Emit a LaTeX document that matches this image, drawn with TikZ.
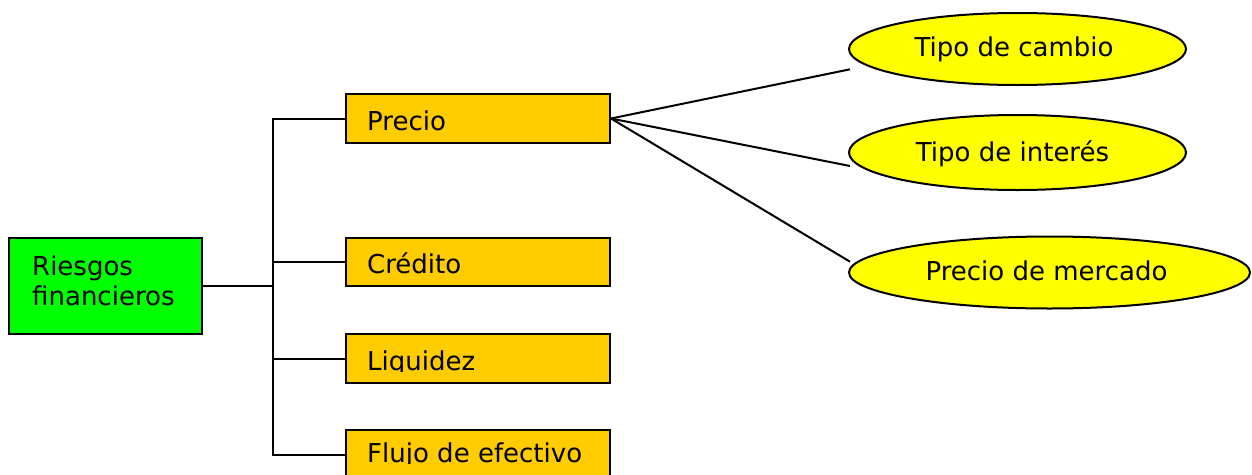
\documentclass[tikz,border=0pt]{standalone}
\usepackage{fontspec}
\setmainfont{DejaVu Sans}
\usetikzlibrary{shapes.geometric,backgrounds}
\definecolor{boxgreen}{RGB}{0,255,0}
\definecolor{boxorange}{RGB}{255,204,0}
\definecolor{ellyellow}{RGB}{255,255,0}
\begin{document}
\begin{tikzpicture}[x=1pt,y=-1pt,
  lw/.style={line width=2pt},
  greenbox/.style={draw,lw,fill=boxgreen,minimum width=193pt,minimum height=96pt,inner sep=0pt,anchor=north west},
  orangebox/.style={draw,lw,fill=boxorange,minimum width=264pt,minimum height=49pt,inner sep=0pt,anchor=north west},
  ellbox/.style={draw,lw,fill=ellyellow,ellipse,inner sep=0pt},
  txt/.style={inner sep=0pt,font=\fontsize{26}{31}\selectfont},
  conn/.style={lw},
  treeconn/.style={lw,line cap=rect}]
\useasboundingbox (0,0) rectangle (1252,474);
\clip (0,0) rectangle (1252,474);
% boxes
\node[greenbox] (root) at (8,237) {};
\node[orangebox] (precio) at (345,93) {};
\node[orangebox,minimum height=48pt] (credito) at (345,237) {};
\node[orangebox] (liquidez) at (345,333) {};
\node[orangebox] (flujo) at (345,429) {};
% texts
\node[txt,anchor=base west] (rootA) at (32,275) {Riesgos};
\node[txt,anchor=base west] (rootB) at (32,305) {financieros};
\node[txt,anchor=base west] (tprecio) at (367,130) {Precio};
\node[txt,anchor=base west] (tcredito) at (367,273) {Crédito};
\begin{scope}
  \clip (345,333) rectangle (609,371);
  \node[txt,anchor=base west] (tliquidez) at (367,370) {Liquidez};
\end{scope}
\begin{scope}
  \clip (345,429) rectangle (609,463);
  \node[txt,anchor=base west] (tflujo) at (367,462) {Flujo de efectivo};
\end{scope}
% ellipses
\node[ellbox,minimum width=337pt,minimum height=72pt] (cambio) at (1017.5,49) {};
\node[ellbox,minimum width=337pt,minimum height=75pt] (interes) at (1017.5,152.5) {};
\node[ellbox,minimum width=401pt,minimum height=72pt] (mercado) at (1049.5,272.5) {};
\node[txt,anchor=base] (tcambio) at (1014,56) {Tipo de cambio};
\node[txt,anchor=base] (tinteres) at (1012.5,161.5) {Tipo de interés};
\node[txt,anchor=base] (tmercado) at (1046.5,280) {Precio de mercado};
% tree connectors, behind the boxes
\coordinate (trunk) at (273.3,285.7);
\begin{pgfonlayer}{background}
\draw[treeconn] (root.east |- trunk) -- (trunk);
\draw[treeconn] (trunk |- precio.west) -- (trunk |- flujo.west);
\draw[treeconn] (trunk |- precio.west) -- (precio.west);
\draw[treeconn] (trunk |- credito.west) -- (credito.west);
\draw[treeconn] (trunk |- liquidez.west) -- (liquidez.west);
\draw[treeconn] (trunk |- flujo.west) -- (flujo.west);
\end{pgfonlayer}
% fan connectors
\coordinate (e1) at (850,69.3);
\coordinate (e2) at (850,166);
\coordinate (e3) at (850,261.7);
\draw[conn] (precio.east) -- (e1);
\draw[conn] (precio.east) -- (e2);
\draw[conn] (precio.east) -- (e3);
\end{tikzpicture}
\end{document}
